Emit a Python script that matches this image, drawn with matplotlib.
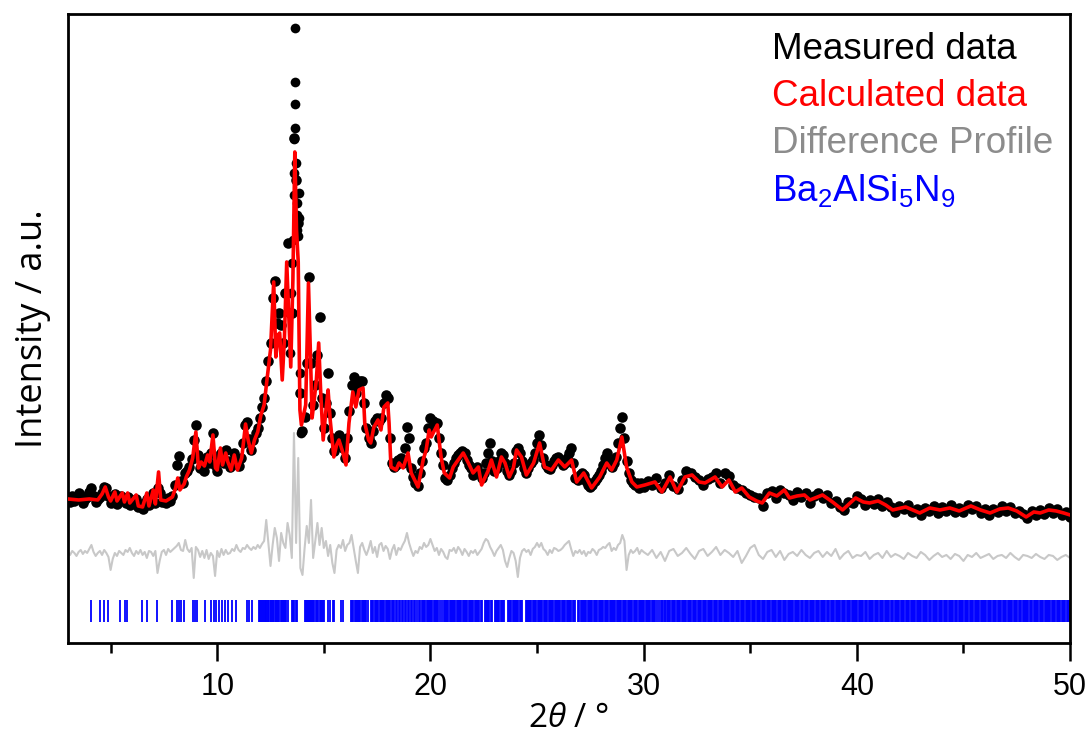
import numpy as np
import matplotlib
matplotlib.use("Agg")
import matplotlib.pyplot as plt

plt.rcParams['mathtext.fontset'] = 'custom'
plt.rcParams['mathtext.rm'] = 'Liberation Sans'
plt.rcParams['mathtext.it'] = 'Open Sans:italic'

# measured scan: 3-30 deg in 0.1 deg steps, 30.2-50 deg in 0.2 deg steps
obs_tt = np.concatenate([np.round(np.arange(3.0, 30.05, 0.1), 2),
                         np.round(np.arange(30.2, 50.05, 0.2), 2)])

obs_int = [
    145, 141, 147, 142, 146, 150, 147, 140, 144, 146,   # 3.0
    151, 155, 147, 141, 144, 146, 150, 156, 155, 147,   # 4.0
    140, 143, 149, 139, 144, 147, 143, 140, 146, 138,   # 5.0
    140, 142, 144, 136, 139, 134, 140, 144, 138, 146,   # 6.0
    150, 140, 155, 150, 141, 144, 140, 145, 142, 147,   # 7.0
    158, 178, 187, 162, 160, 170, 172, 176, 184, 203,   # 8.0
    218, 188, 175, 183, 172, 186, 180, 190, 210, 178,   # 9.0
    172, 185, 190, 180, 193, 182, 176, 180, 190, 180,   # 10.0
    177, 185, 200, 218, 221, 204, 193, 203, 210, 215,   # 11.0
    225, 236, 245, 262, 282, 300, 345, 362, 320, 330,   # 12.0
    318, 300, 350, 400, 330, 330, 505, 463, 420, 250,   # 13.0
    212, 226, 280, 366, 280, 238, 258, 288, 326, 245,   # 14.0
    215, 240, 270, 230, 205, 192, 200, 208, 200, 195,   # 15.0
    185, 205, 232, 258, 266, 250, 258, 262, 262, 240,   # 16.0
    215, 205, 200, 212, 222, 225, 222, 225, 240, 248,   # 17.0
    245, 205, 180, 176, 178, 183, 185, 180, 195, 216,   # 18.0
    205, 175, 166, 160, 157, 170, 182, 195, 200, 215,   # 19.0
    225, 222, 218, 220, 205, 190, 178, 165, 163, 168,   # 20.0
    175, 180, 185, 188, 190, 192, 190, 183, 178, 175,   # 21.0
    168, 174, 176, 170, 165, 170, 180, 190, 200, 182,   # 22.0
    172, 175, 182, 190, 188, 180, 172, 168, 172, 180,   # 23.0
    192, 195, 190, 182, 175, 170, 175, 180, 183, 190,   # 24.0
    200, 208, 198, 185, 178, 175, 174, 178, 182, 185,   # 25.0
    186, 182, 178, 180, 185, 190, 195, 180, 165, 163,   # 26.0
    168, 170, 168, 162, 158, 156, 158, 162, 165, 168,   # 27.0
    172, 178, 185, 190, 182, 176, 180, 186, 200, 215,   # 28.0
    226, 205, 182, 170, 163, 160, 158, 160, 155, 160,   # 29.0
    156,                                                # 30.0
    162, 158, 165, 155, 160, 168, 157, 154, 163, 172,   # 30.2-32.0
    170, 166, 163, 158, 164, 166, 170, 160, 170, 167,   # 32.2-34.0
    158, 155, 153, 150, 148, 146, 145, 137, 150, 152,   # 34.2-36.0
    145, 153, 150, 148, 143, 151, 146, 150, 140, 147,   # 36.2-38.0
    150, 145, 148, 140, 142, 136, 133, 141, 140, 147,   # 38.2-40.0
    144, 138, 143, 139, 144, 137, 141, 136, 131, 137,   # 40.2-42.0
    134, 138, 131, 134, 128, 135, 132, 137, 130, 136,   # 42.2-44.0
    132, 138, 131, 135, 131, 138, 134, 137, 130, 134,   # 44.2-46.0
    128, 134, 131, 137, 132, 136, 130, 132, 129, 125,   # 46.2-48.0
    132, 128, 133, 129, 135, 130, 134, 128, 131, 126,   # 48.2-50.0
]

# extra measured points on the flanks of the strongest reflection
peak_tt = [13.42, 13.47, 13.52, 13.56, 13.58, 13.61, 13.62, 13.63, 13.64, 13.65,
           13.66, 13.68, 13.72, 13.74, 13.76, 13.78, 13.82, 13.84, 13.88, 13.92]
peak_int = [290, 350, 380, 403, 448, 470, 504, 561, 615, 539,
            515, 480, 440, 428, 413, 407, 450, 425, 270, 210]

calc_tt = [
    3.0, 3.5, 4.0, 4.4, 4.6, 4.75, 4.9, 5.0, 5.2, 5.3,
    5.55, 5.65, 5.8, 5.9, 6.2, 6.3, 6.5, 6.7, 6.8, 7.0,
    7.1, 7.25, 7.35, 7.6, 7.9, 8.05, 8.15, 8.25, 8.45, 8.55,
    8.7, 8.85, 9.0, 9.12, 9.25, 9.4, 9.55, 9.65, 9.8, 9.92,
    10.0, 10.15, 10.25, 10.4, 10.5, 10.65, 10.8, 10.95, 11.15, 11.33,
    11.45, 11.6, 11.75, 11.9, 12.05, 12.2, 12.36, 12.5, 12.65, 12.75,
    12.85, 12.93, 13.05, 13.15, 13.26, 13.38, 13.45, 13.55, 13.64, 13.72,
    13.8, 13.88, 13.95, 14.05, 14.15, 14.28, 14.38, 14.45, 14.55, 14.65,
    14.76, 14.85, 14.97, 15.1, 15.2, 15.3, 15.47, 15.6, 15.71, 15.9,
    16.04, 16.18, 16.36, 16.5, 16.65, 16.84, 16.92, 17.1, 17.2, 17.35,
    17.54, 17.68, 17.82, 18.0, 18.06, 18.15, 18.39, 18.53, 18.72, 18.95,
    19.1, 19.33, 19.42, 19.66, 19.8, 19.94, 20.04, 20.13, 20.32, 20.5,
    20.65, 20.9, 21.07, 21.3, 21.54, 21.78, 22.0, 22.25, 22.4, 22.7,
    22.86, 23.1, 23.33, 23.5, 23.7, 23.89, 24.04, 24.27, 24.5, 24.84,
    25.12, 25.35, 25.68, 26.0, 26.3, 26.62, 26.86, 27.19, 27.56, 27.94,
    28.27, 28.5, 28.74, 28.98, 29.2, 29.45, 29.68, 30.06, 30.53, 30.86,
    31.24, 31.56, 31.94, 32.27, 32.6, 32.88, 33.35, 33.68, 34.0, 34.3,
    34.6, 34.95, 35.3, 35.56, 35.9, 36.25, 36.6, 36.84, 37.2, 37.54,
    37.8, 38.39, 38.86, 39.33, 39.94, 40.3, 40.6, 41.0, 41.35, 41.68,
    42.29, 42.95, 43.42, 43.9, 44.36, 44.8, 45.35, 45.8, 46.25, 46.7,
    47.1, 47.5, 47.94, 48.3, 48.6, 49.0, 49.35, 49.7, 50.0,
]
calc_int = [
    144, 143, 144, 143, 149, 156, 146, 142, 151, 142,
    150, 141, 150, 140, 148, 137, 136, 150, 137, 153,
    139, 171, 143, 142, 146, 155, 165, 153, 159, 166,
    173, 185, 211, 175, 181, 177, 188, 181, 208, 175,
    173, 195, 178, 190, 181, 173, 188, 173, 185, 219,
    203, 190, 203, 211, 228, 238, 268, 293, 361, 286,
    308, 310, 263, 303, 381, 313, 276, 363, 491, 413,
    381, 233, 218, 228, 238, 360, 283, 225, 243, 263,
    300, 253, 203, 233, 253, 223, 186, 198, 203, 190,
    178, 220, 251, 236, 253, 255, 220, 203, 200, 216,
    223, 213, 236, 240, 220, 176, 173, 180, 175, 190,
    170, 160, 156, 183, 193, 213, 206, 210, 218, 186,
    170, 165, 176, 183, 190, 180, 170, 176, 158, 172,
    183, 166, 186, 180, 166, 175, 193, 186, 168, 180,
    200, 176, 173, 183, 176, 183, 161, 170, 155, 166,
    180, 173, 183, 206, 176, 161, 156, 158, 161, 151,
    166, 151, 166, 168, 161, 160, 166, 156, 163, 151,
    155, 146, 142, 140, 150, 147, 153, 145, 147, 148,
    143, 148, 141, 133, 145, 141, 140, 142, 138, 133,
    136, 130, 135, 133, 135, 132, 137, 133, 130, 134,
    135, 132, 126, 131, 130, 133, 132, 130, 128,
]

# difference profile (obs - calc) on the scan grid
diff_int = [
    1, -2, 2, 0, -3, 1, 3, -1, 2, 0,
    4, 8, 1, -3, 0, 2, -2, 3, 0, -4,
    -17, -6, 0, -3, 2, 0, -2, 3, 1, 5,
    0, -3, 2, -1, 3, -2, 1, -5, 2, 1,
    -3, 2, -20, -8, 1, 3, -2, 4, 1, 3,
    5, 7, 10, 3, 2, 13, 4, 1, 5, -25,
    6, 3, -4, 2, -5, 3, -6, 0, -3, -23,
    2, -4, 4, -2, 3, -1, 0, 4, 2, 8,
    3, 1, 5, 4, 8, 5, 3, 6, 4, 8,
    5, 9, 12, 33, 10, -13, 8, 25, 15, -8,
    20, 10, 5, 30, 18, -5, 120, 10, 95, -15,
    -22, 5, 27, 10, 53, -5, 12, 30, 8, 25,
    5, 12, -3, 8, -10, -20, 3, 8, 5, 13,
    2, 8, 10, 18, 5, -8, -20, 6, 10, 3,
    -2, 4, 12, 0, 6, -4, 8, 10, 2, 7,
    4, -6, 3, 8, -2, 5, 3, 8, 12, 20,
    10, 3, -3, 2, 0, 6, 4, 10, 6, 8,
    14, 8, 2, 5, -2, 4, 1, -4, -6, 3,
    2, 5, 0, 6, 3, -2, 4, 1, -3, 2,
    0, 3, -2, 1, 4, 10, 14, 12, 6, 2,
    -3, 2, 5, 8, 3, -8, -14, -5, 2, 0,
    -8, -24, -5, 2, 4, 1, 3, -2, 4, 6,
    10, 6, 10, 4, 2, -2, 3, 0, 5, 4,
    2, 3, 5, 8, 10, 12, 4, -3, 2, 0,
    3, -1, 2, -3, 1, 0, 4, 2, -2, 3,
    4, 6, 5, 8, 10, 2, 5, 3, 8, 10,
    18, 12, -17, -2, 3, 0, 2, 5, -1, 3,
    1,
    -2, 3, -5, 1, -8, 2, 4, -3, 0, 5,
    -1, -6, 2, 4, -3, 1, 6, -2, 3, 0,
    -4, 2, -10, -3, 5, 8, -2, -6, 1, 3,
    -4, 2, -7, -1, 1, -3, 3, -2, -5, 0,
    2, -4, 1, -3, 4, -6, -1, 2, -5, -2,
    -3, 1, -6, -2, 0, -5, 2, -4, -1, -3,
    -6, 0, -3, -5, 1, -2, -7, -3, 0, -4,
    -2, -6, -1, -3, -8, -2, -4, 0, -5, -3,
    -1, -6, -3, -2, -5, 0, -4, -7, -2, -3,
    -5, -1, -4, -6, -2, -3, -7, -4, -2, -5,
]

# Bragg reflection positions of Ba2AlSi5N9
hkl_tt = [
    4.10, 4.52, 4.71, 4.88, 5.44, 5.69, 5.79, 6.49, 6.72, 7.19,
    7.87, 8.12, 8.20, 8.30, 8.43, 8.86, 8.95, 9.06, 9.45, 9.69,
    9.83, 9.94, 10.08, 10.22, 10.36, 10.51, 10.69, 10.90, 11.38, 11.47,
    11.62, 11.97, 12.02, 12.06, 12.10, 12.15, 12.18, 12.23, 12.27, 12.31,
    12.36, 12.40, 12.45, 12.50, 12.54, 12.60, 12.64, 12.70, 12.76, 12.80,
    12.85, 12.92, 12.97, 13.03, 13.08, 13.13, 13.18, 13.24, 13.30, 13.50,
    13.55, 13.62, 13.68, 13.76, 14.10, 14.15, 14.19, 14.24, 14.30, 14.34,
    14.40, 14.46, 14.50, 14.56, 14.62, 14.68, 14.73, 14.80, 14.86, 14.91,
    14.96, 15.02, 15.20, 15.27, 15.42, 15.49, 15.80, 15.88, 16.28, 16.33,
    16.38, 16.44, 16.49, 16.55, 16.60, 16.66, 16.71, 16.77, 16.83, 16.88,
    16.94, 17.00, 17.06, 17.22, 17.28, 17.33, 17.39, 17.45, 17.50, 17.56,
    17.62, 17.67, 17.73, 17.79, 17.84, 17.90, 17.96, 18.01, 18.07, 18.12,
    18.18, 18.24, 18.30, 18.38, 18.45, 18.52, 18.58, 18.65, 18.73, 18.80,
    18.86, 18.93, 19.00, 19.08, 19.15, 19.22, 19.30, 19.37, 19.45, 19.53,
    19.60, 19.65, 19.71, 19.76, 19.82, 19.87, 19.93, 19.98,
    20.04, 20.09, 20.15, 20.20, 20.26, 20.31, 20.37, 20.43, 20.56, 20.62,
    20.67, 20.73, 20.78, 20.84, 20.90, 20.95,
    21.01, 21.06, 21.12, 21.17, 21.23, 21.29, 21.34, 21.40, 21.45, 21.51,
    21.57, 21.62, 21.68, 21.73, 21.79, 21.85, 21.90, 21.96,
    22.02, 22.07, 22.13, 22.18, 22.24, 22.30, 22.35, 22.41, 22.54, 22.60,
    22.65, 22.71, 22.76, 22.82, 22.89,
    23.01, 23.06, 23.12, 23.18, 23.23, 23.29, 23.35, 23.40, 23.46, 23.62,
    23.68, 23.73, 23.79, 23.85, 23.90, 23.96,
    24.02, 24.07, 24.13, 24.19, 24.24, 24.30, 24.46, 24.52, 24.57, 24.63,
    24.69, 24.74, 24.80, 24.86, 24.91, 24.97,
    25.03, 25.08, 25.14, 25.20, 25.25, 25.31, 25.37, 25.42, 25.48, 25.54,
    25.59, 25.65, 25.71, 25.76, 25.82, 25.88, 25.93, 25.99,
    26.05, 26.10, 26.16, 26.22, 26.27, 26.33, 26.39, 26.44, 26.50, 26.56,
    26.61, 26.67, 26.73, 26.80, 26.92, 26.98,
    27.04, 27.09, 27.15, 27.21, 27.26, 27.32, 27.38, 27.43, 27.49, 27.55,
    27.60, 27.66, 27.72, 27.77, 27.83, 27.89, 27.94,
    28.00, 28.06, 28.11, 28.17, 28.23, 28.28, 28.34, 28.40, 28.45, 28.51,
    28.57, 28.62, 28.68, 28.74, 28.79, 28.85, 28.91, 28.96,
    29.02, 29.08, 29.13, 29.19, 29.25, 29.30, 29.36, 29.42, 29.47, 29.53,
    29.59, 29.64, 29.70, 29.76, 29.81, 29.87, 29.93, 29.98,
    30.04, 30.10, 30.15, 30.21, 30.27, 30.32, 30.38, 30.44, 30.49, 30.55,
    30.61, 30.70, 30.82, 30.87, 30.93, 30.99,
    31.02, 31.08, 31.14, 31.20, 31.25, 31.31, 31.37, 31.43, 31.49, 31.55,
    31.60, 31.66, 31.72, 31.78, 31.84, 31.90, 31.95,
    32.01, 32.07, 32.12, 32.18, 32.24, 32.30, 32.36, 32.42, 32.47, 32.53,
    32.59, 32.65, 32.71, 32.77, 32.82, 32.88, 32.94,
    33.00, 33.05, 33.11, 33.17, 33.23, 33.29, 33.34, 33.40, 33.46, 33.52,
    33.58, 33.64, 33.69, 33.75, 33.81, 33.87, 33.93, 33.98,
    34.02, 34.08, 34.14, 34.20, 34.25, 34.31, 34.37, 34.43, 34.49, 34.55,
    34.60, 34.66, 34.72, 34.78, 34.84, 34.90, 34.95,
    35.01, 35.07, 35.12, 35.18, 35.24, 35.30, 35.36, 35.42, 35.47, 35.53,
    35.59, 35.65, 35.71, 35.77, 35.82, 35.88, 35.94,
    36.00, 36.05, 36.11, 36.17, 36.23, 36.29, 36.34, 36.40, 36.46, 36.52,
    36.58, 36.64, 36.69, 36.75, 36.81, 36.87, 36.93, 36.98,
    37.02, 37.08, 37.14, 37.20, 37.25, 37.31, 37.37, 37.43, 37.49, 37.55,
    37.60, 37.66, 37.72, 37.78, 37.84, 37.90, 37.95,
    38.01, 38.07, 38.12, 38.18, 38.24, 38.30, 38.36, 38.42, 38.47, 38.53,
    38.59, 38.65, 38.71, 38.77, 38.82, 38.88, 38.94,
    39.00, 39.05, 39.11, 39.17, 39.23, 39.29, 39.34, 39.40, 39.46, 39.52,
    39.58, 39.64, 39.69, 39.75, 39.81, 39.87, 39.93, 39.98,
    40.02, 40.08, 40.14, 40.20, 40.25, 40.31, 40.37, 40.43, 40.49, 40.55,
    40.60, 40.66, 40.72, 40.78, 40.84, 40.90, 40.95,
    41.01, 41.07, 41.12, 41.18, 41.24, 41.30, 41.36, 41.42, 41.47, 41.53,
    41.59, 41.65, 41.71, 41.77, 41.82, 41.88, 41.94,
    42.00, 42.05, 42.11, 42.17, 42.23, 42.29, 42.34, 42.40, 42.46, 42.52,
    42.58, 42.64, 42.69, 42.75, 42.81, 42.87, 42.93, 42.98,
    43.02, 43.08, 43.14, 43.20, 43.25, 43.31, 43.37, 43.43, 43.49, 43.55,
    43.60, 43.66, 43.72, 43.78, 43.84, 43.90, 43.95,
    44.01, 44.07, 44.12, 44.18, 44.24, 44.30, 44.36, 44.42, 44.47, 44.53,
    44.59, 44.65, 44.71, 44.77, 44.82, 44.88, 44.94,
    45.00, 45.05, 45.11, 45.17, 45.23, 45.29, 45.34, 45.40, 45.46, 45.52,
    45.58, 45.64, 45.69, 45.75, 45.81, 45.87, 45.93, 45.98,
    46.02, 46.08, 46.14, 46.20, 46.25, 46.31, 46.37, 46.43, 46.49, 46.55,
    46.60, 46.66, 46.72, 46.78, 46.84, 46.90, 46.95,
    47.01, 47.07, 47.12, 47.18, 47.24, 47.30, 47.36, 47.42, 47.47, 47.53,
    47.59, 47.65, 47.71, 47.77, 47.82, 47.88, 47.94,
    48.00, 48.05, 48.11, 48.17, 48.23, 48.29, 48.34, 48.40, 48.46, 48.52,
    48.58, 48.64, 48.69, 48.75, 48.81, 48.87, 48.93, 48.98,
    49.02, 49.08, 49.14, 49.20, 49.25, 49.31, 49.37, 49.43, 49.49, 49.55,
    49.60, 49.66, 49.72, 49.78, 49.84, 49.90, 49.95, 50.00,
]

legend_labels = ["Measured data", "Calculated data", "Difference Profile",
                 "Ba$_2$AlSi$_5$N$_9$"]
legend_colors = ["black", "#ff0000", "#8c8c8c", "#0000ff"]

diff_offset = 90
hkl_bottom, hkl_top = 21, 43

fig = plt.figure(figsize=(10.89, 7.44), dpi=100)
ax = fig.add_axes([0.0624, 0.1358, 0.9202, 0.8454])

ax.plot(obs_tt, obs_int, 'o', color='black', ms=7.6, mew=0, zorder=2)
ax.plot(peak_tt, peak_int, 'o', color='black', ms=7.0, mew=0, zorder=2)
ax.plot(calc_tt, calc_int, color='#ff0000', lw=2.6, zorder=3)
ax.plot(obs_tt, diff_offset + np.array(diff_int), color='#c8c8c8', lw=1.5, zorder=1)
ax.vlines(hkl_tt, hkl_bottom, hkl_top, color='#0000ff', lw=1.3, zorder=1)

ax.set_xlim(3, 50)
ax.set_ylim(0, 629)
ax.set_yticks([])
ax.set_xticks([10, 20, 30, 40, 50])
ax.set_xticks([5, 15, 25, 35, 45], minor=True)
ax.tick_params(axis='x', which='major', direction='out', length=13, width=1.8,
               labelsize=22, pad=8)
ax.tick_params(axis='x', which='minor', direction='out', length=7, width=1.8)
for lbl in ax.get_xticklabels():
    lbl.set_family('Liberation Sans')
for sp in ax.spines.values():
    sp.set_linewidth(2.0)

ax.set_xlabel("2$\\mathit{θ}$ / °", fontsize=24, family='Open Sans', labelpad=0)
ax.set_ylabel("Intensity / a.u.", fontsize=26, family='Open Sans', labelpad=12)

for i, (txt, col) in enumerate(zip(legend_labels, legend_colors)):
    ax.text(0.7026, 0.943 - i * 0.0745, txt, color=col, fontsize=26.5,
            family='Liberation Sans', va='center', ha='left', transform=ax.transAxes)

fig.savefig("out.png", dpi=100)
